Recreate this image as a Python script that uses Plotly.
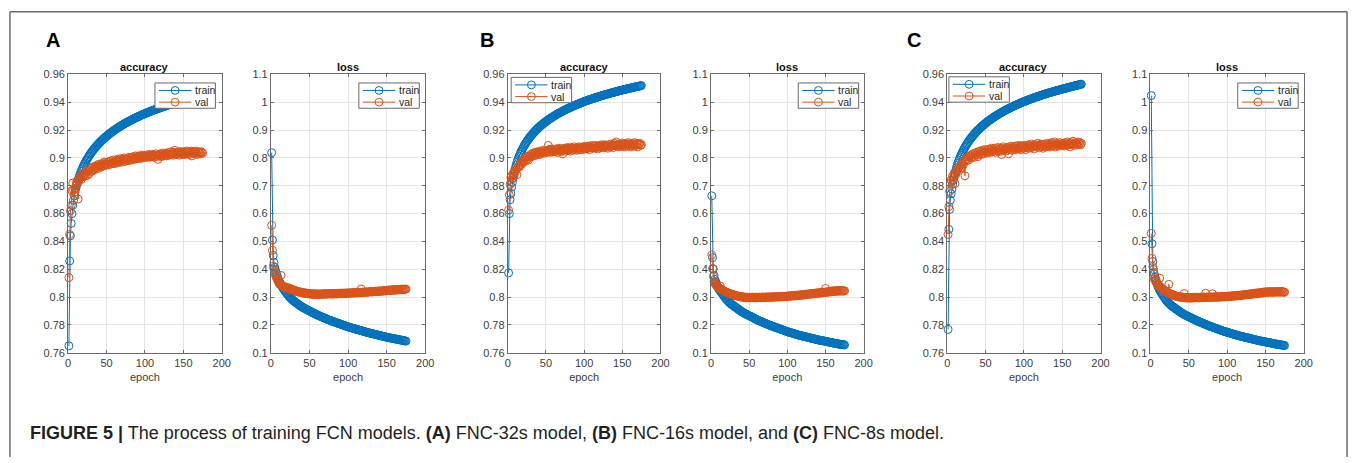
import plotly.graph_objects as go

# ---------------- data (one value per epoch, epochs 1..175) ----------------
EPOCHS = list(range(1, 176))

A_ACC_TRAIN = [
    .7650, .8260, .8440, .8530, .8600, .8660, .8696, .8728, .8755, .8780, .8802, .8822, .8841, .8859, .8875, .8890, .8904, .8917, .8930, .8942, .8954, .8964, .8975, .8985, .8994,
    .9003, .9012, .9021, .9029, .9037, .9045, .9052, .9059, .9066, .9073, .9080, .9086, .9092, .9098, .9104, .9110, .9116, .9121, .9126, .9132, .9137, .9142, .9147, .9152, .9156,
    .9161, .9166, .9170, .9174, .9179, .9183, .9187, .9191, .9195, .9199, .9203, .9207, .9210, .9214, .9218, .9221, .9225, .9228, .9232, .9235, .9238, .9242, .9245, .9248, .9251,
    .9254, .9257, .9261, .9263, .9266, .9269, .9272, .9275, .9278, .9281, .9283, .9286, .9289, .9291, .9294, .9297, .9299, .9302, .9304, .9307, .9309, .9312, .9314, .9316, .9319,
    .9321, .9323, .9326, .9328, .9330, .9332, .9334, .9337, .9339, .9341, .9343, .9345, .9347, .9349, .9351, .9353, .9355, .9357, .9359, .9361, .9363, .9365, .9367, .9369, .9371,
    .9373, .9374, .9376, .9378, .9380, .9382, .9384, .9385, .9387, .9389, .9391, .9392, .9394, .9396, .9397, .9399, .9401, .9402, .9404, .9406, .9407, .9409, .9410, .9412, .9414,
    .9415, .9417, .9418, .9420, .9421, .9423, .9424, .9426, .9427, .9429, .9430, .9432, .9433, .9434, .9436, .9437, .9439, .9440, .9441, .9443, .9444, .9446, .9447, .9448, .9450]
A_ACC_VAL = [
    .814, .845, .862, .866, .8765, .882, .877, .873, .878, .880, .883, .8815, .8705, .884, .885, .886, .8845, .888, .8865, .887, .8895, .8870, .8885, .8905, .8875,
    .891, .8885, .8915, .890, .8925, .8905, .8935, .892, .8915, .894, .8925, .8945, .8935, .8925, .8955, .894, .8950, .8935, .8960, .8945, .8955, .8970, .8945, .8960, .8955,
    .8970, .8950, .8965, .8975, .8955, .8980, .8965, .8960, .8985, .8970, .8960, .8980, .8975, .8990, .8965, .8985, .8975, .8995, .8980, .8970, .8990, .8985, .9000, .8975, .8990,
    .8985, .9000, .8980, .8995, .9005, .8990, .8985, .9005, .8995, .9010, .8990, .9000, .9015, .8995, .9005, .9000, .9015, .8995, .9010, .9005, .9020, .9000, .9010, .9015, .9005,
    .9015, .9005, .9020, .9010, .9025, .9005, .9015, .9020, .9010, .9025, .9015, .9005, .9020, .9030, .9010, .9020, .8990, .9025, .9015, .9030, .9010, .9025, .9035, .9015, .9025,
    .9020, .9035, .9015, .9030, .9025, .9040, .9020, .9030, .9045, .9025, .9035, .9020, .9040, .9055, .9030, .9025, .9040, .9030, .9045, .9020, .9035, .9045, .9025, .9040, .9030,
    .9045, .9025, .9040, .9035, .9050, .9030, .9045, .9025, .9040, .9050, .9015, .9040, .9035, .9045, .9030, .9050, .9040, .9025, .9045, .9035, .9040, .9030, .9045, .9040, .9035]
A_LOSS_TRAIN = [
    .819, .505, .450, .424, .407, .396, .386, .377, .368, .360, .355, .350, .345, .340, .335, .331, .327, .323, .319, .315, .3115, .308, .3046, .3012, .298,
    .2954, .2928, .2902, .2876, .285, .283, .281, .279, .277, .275, .273, .271, .269, .267, .265, .2635, .262, .2605, .259, .2575, .256, .2545, .253, .2515, .250,
    .2486, .2472, .2458, .2444, .243, .2416, .2402, .2388, .2374, .236, .2348, .2336, .2324, .2312, .230, .2288, .2276, .2264, .2252, .224, .2228, .2216, .2204, .2192, .218,
    .217, .216, .215, .214, .213, .212, .211, .210, .209, .208, .207, .206, .205, .204, .203, .202, .201, .200, .199, .198, .197, .196, .195, .194, .193,
    .1922, .1914, .1906, .1898, .189, .1882, .1874, .1866, .1858, .185, .1842, .1834, .1826, .1818, .181, .1802, .1794, .1786, .1778, .177, .1762, .1754, .1746, .1738, .173,
    .1723, .1716, .1710, .1703, .1696, .1689, .1682, .1676, .1669, .1662, .1655, .1648, .1642, .1635, .1628, .1621, .1614, .1608, .1601, .1594, .1587, .1580, .1574, .1567, .156,
    .1554, .1549, .1543, .1538, .1532, .1526, .1521, .1515, .1510, .1504, .1498, .1493, .1487, .1482, .1476, .1470, .1465, .1459, .1454, .1448, .1442, .1437, .1431, .1426, .142]
A_LOSS_VAL = [
    .558, .468, .411, .400, .389, .378, .372, .365, .360, .352, .348, .345, .378, .342, .340, .338, .337, .335, .3365, .333, .3325, .331, .3335, .329, .330,
    .327, .3285, .326, .3245, .325, .3225, .3235, .321, .3195, .321, .318, .319, .317, .3165, .318, .315, .316, .314, .3155, .313, .3145, .312, .3135, .3115, .313,
    .311, .3125, .310, .3115, .3095, .3125, .310, .311, .3095, .312, .3105, .309, .3115, .310, .312, .3095, .311, .3125, .310, .3115, .3135, .3105, .312, .311, .3125,
    .3115, .313, .311, .3125, .3105, .3135, .312, .3115, .313, .3125, .311, .314, .3125, .3135, .312, .3145, .313, .312, .3145, .3135, .3125, .315, .3135, .3145, .314,
    .3155, .3135, .315, .3145, .316, .314, .3155, .3165, .315, .3145, .317, .3155, .316, .3175, .3155, .3165, .329, .3165, .318, .317, .3175, .3185, .317, .319, .318,
    .3175, .319, .3185, .3205, .319, .318, .3205, .3195, .321, .3195, .3215, .3205, .3195, .322, .321, .3225, .3205, .3215, .323, .3215, .3225, .324, .322, .3235, .3225,
    .324, .3255, .3235, .3245, .326, .324, .3255, .327, .3245, .326, .3255, .3275, .325, .3265, .328, .326, .327, .3285, .3265, .3275, .329, .327, .3285, .328, .329]

B_ACC_TRAIN = [
    .8174, .8600, .8700, .8746, .8790, .8825, .8857, .8884, .8909, .8930, .8950, .8968, .8984, .9000, .9014, .9027, .9040, .9051, .9062, .9073, .9083, .9093, .9102, .9111, .9119,
    .9127, .9135, .9142, .9150, .9157, .9163, .9170, .9176, .9182, .9188, .9194, .9200, .9205, .9211, .9216, .9221, .9226, .9231, .9236, .9240, .9245, .9249, .9253, .9258, .9262,
    .9266, .9270, .9274, .9278, .9281, .9285, .9289, .9292, .9296, .9299, .9303, .9306, .9309, .9313, .9316, .9319, .9322, .9325, .9328, .9331, .9334, .9337, .9340, .9343, .9345,
    .9348, .9351, .9354, .9356, .9359, .9361, .9364, .9366, .9369, .9371, .9374, .9376, .9378, .9381, .9383, .9385, .9388, .9390, .9392, .9394, .9396, .9398, .9401, .9403, .9405,
    .9407, .9409, .9411, .9413, .9415, .9417, .9419, .9421, .9422, .9424, .9426, .9428, .9430, .9432, .9433, .9435, .9437, .9439, .9440, .9442, .9444, .9446, .9447, .9449, .9451,
    .9452, .9454, .9456, .9457, .9459, .9460, .9462, .9463, .9465, .9466, .9468, .9470, .9471, .9472, .9474, .9475, .9477, .9478, .9480, .9481, .9483, .9484, .9485, .9487, .9488,
    .9490, .9491, .9492, .9494, .9495, .9496, .9498, .9499, .9500, .9501, .9503, .9504, .9505, .9507, .9508, .9509, .9510, .9512, .9513, .9514, .9515, .9516, .9518, .9519, .9520]
B_ACC_VAL = [
    .8625, .8735, .881, .886, .887, .885, .889, .887, .891, .890, .892, .888, .893, .894, .8935, .895, .8965, .8955, .8975, .8985, .8970, .8995, .8980, .9005, .8990,
    .9010, .8985, .9015, .9005, .9025, .9010, .9020, .9035, .9015, .9030, .9040, .9020, .9035, .9045, .9030, .9040, .9025, .9050, .9035, .9045, .9040, .9055, .9035, .9045, .9050,
    .9040, .9055, .9090, .9045, .9060, .9040, .9055, .9065, .9045, .9050, .9060, .9045, .9065, .9055, .9040, .9060, .9070, .9050, .9060, .9045, .9065, .9030, .9055, .9070, .9060,
    .9050, .9065, .9075, .9055, .9070, .9060, .9050, .9075, .9065, .9055, .9070, .9080, .9060, .9070, .9055, .9075, .9065, .9080, .9060, .9070, .9075, .9060, .9080, .9070, .9065,
    .9075, .9085, .9065, .9075, .9070, .9085, .9060, .9080, .9075, .9090, .9070, .9080, .9085, .9070, .9090, .9075, .9080, .9065, .9085, .9090, .9075, .9080, .9095, .9075, .9085,
    .9080, .9095, .9075, .9090, .9085, .9070, .9095, .9085, .9080, .9100, .9085, .9090, .9075, .9095, .9105, .9090, .9115, .9085, .9095, .9100, .9080, .9095, .9090, .9105, .9085,
    .9100, .9090, .9080, .9105, .9095, .9085, .9100, .9110, .9090, .9095, .9080, .9105, .9095, .9100, .9085, .9110, .9095, .9090, .9105, .9080, .9100, .9095, .9105, .9090, .9095]
B_LOSS_TRAIN = [
    .664, .442, .401, .378, .364, .356, .349, .342, .336, .330, .3265, .323, .319, .315, .3115, .308, .304, .300, .2965, .293, .290, .287, .284, .281, .2785,
    .276, .274, .272, .270, .268, .266, .264, .262, .260, .258, .256, .254, .252, .250, .2483, .2467, .245, .2433, .2417, .240, .2387, .2373, .236, .2347, .2333,
    .232, .2307, .2293, .228, .2265, .2248, .223, .2217, .2203, .219, .2177, .2163, .215, .214, .213, .212, .2107, .2093, .208, .207, .206, .205, .2037, .2023, .201,
    .200, .199, .198, .197, .196, .195, .194, .193, .192, .191, .190, .189, .188, .187, .186, .185, .184, .183, .182, .181, .180, .179, .178, .177, .176,
    .175, .174, .1733, .1727, .172, .171, .170, .169, .1683, .1677, .167, .166, .165, .164, .1633, .1627, .162, .1613, .1607, .160, .1593, .1587, .158, .1573, .1567,
    .156, .1553, .1547, .154, .1533, .1527, .152, .1513, .1507, .150, .1493, .1487, .148, .1473, .1467, .146, .1453, .1447, .144, .1437, .1433, .143, .1423, .1417, .141,
    .1403, .1397, .139, .1387, .1383, .138, .1373, .1367, .136, .1353, .1347, .134, .1337, .1333, .133, .1323, .1317, .131, .1307, .1303, .130, .1297, .1293, .129, .128]
B_LOSS_VAL = [
    .451, .403, .374, .356, .350, .346, .342, .339, .336, .333, .331, .340, .329, .327, .325, .3235, .322, .3205, .319, .318, .3165, .3155, .314, .313, .312,
    .311, .3095, .3105, .308, .308, .3065, .3055, .306, .304, .3035, .3025, .303, .301, .302, .300, .3015, .2995, .300, .2985, .3005, .299, .2975, .2995, .2985, .298,
    .2995, .2975, .2985, .300, .2975, .299, .2985, .2970, .3000, .2985, .2975, .2995, .2985, .300, .2980, .2995, .2985, .3005, .2990, .2980, .3000, .2995, .3010, .2990, .3000,
    .2995, .3010, .3000, .2990, .3015, .3000, .3010, .2995, .3015, .3005, .3020, .3000, .3015, .3010, .3025, .3005, .3020, .3015, .3030, .3010, .3025, .3020, .3035, .3015, .3040,
    .3030, .3045, .3025, .3040, .3055, .3035, .3050, .3045, .3060, .3040, .3065, .3055, .3070, .3050, .3065, .3080, .3060, .3075, .3090, .3070, .3085, .3080, .3100, .3080, .3110,
    .3095, .3110, .3100, .3120, .3105, .3125, .3110, .3130, .3115, .3140, .3120, .3135, .3150, .3130, .3145, .3160, .3140, .3155, .3170, .3150, .3165, .3180, .3160, .3175, .3310,
    .3185, .3170, .3195, .3180, .3200, .3215, .3190, .3205, .3225, .3200, .3215, .3230, .3205, .3220, .3235, .3210, .3225, .3240, .3215, .3230, .3220, .3235, .3215, .3230, .3225]

C_ACC_TRAIN = [
    .7768, .8487, .8630, .8697, .8743, .8776, .8810, .8840, .8867, .8890, .8911, .8931, .8948, .8965, .8981, .8995, .9009, .9021, .9033, .9045, .9056, .9066, .9076, .9086, .9095,
    .9103, .9112, .9120, .9128, .9136, .9142, .9150, .9157, .9163, .9170, .9176, .9183, .9188, .9195, .9200, .9205, .9211, .9216, .9222, .9226, .9231, .9236, .9240, .9246, .9250,
    .9254, .9259, .9263, .9267, .9271, .9275, .9279, .9282, .9287, .9290, .9294, .9298, .9301, .9305, .9308, .9312, .9315, .9318, .9322, .9325, .9328, .9331, .9335, .9338, .9340,
    .9343, .9346, .9350, .9352, .9355, .9357, .9361, .9363, .9366, .9368, .9371, .9374, .9376, .9379, .9381, .9383, .9387, .9389, .9391, .9393, .9395, .9398, .9401, .9403, .9405,
    .9407, .9409, .9411, .9414, .9416, .9418, .9420, .9422, .9424, .9426, .9428, .9430, .9432, .9434, .9436, .9438, .9440, .9442, .9443, .9445, .9447, .9449, .9451, .9453, .9455,
    .9456, .9458, .9460, .9462, .9464, .9465, .9467, .9468, .9470, .9471, .9473, .9475, .9476, .9478, .9480, .9481, .9483, .9484, .9486, .9487, .9489, .9490, .9491, .9493, .9495,
    .9497, .9498, .9499, .9501, .9502, .9503, .9505, .9507, .9508, .9509, .9511, .9512, .9513, .9515, .9516, .9518, .9519, .9521, .9522, .9523, .9524, .9526, .9528, .9529, .9530]
C_ACC_VAL = [
    .845, .865, .876, .882, .884, .883, .887, .886, .889, .8815, .888, .890, .891, .892, .8935, .894, .8925, .8930, .8955, .8960, .8950, .8975, .8872, .8990, .8980,
    .8995, .9010, .8985, .9005, .9015, .9000, .9025, .9010, .9030, .9005, .9035, .9020, .9040, .9025, .9010, .9045, .9030, .9050, .9025, .9040, .9055, .9030, .9045, .9060, .9040,
    .9050, .9035, .9060, .9045, .9065, .9040, .9055, .9070, .9045, .9060, .9050, .9070, .9040, .9065, .9055, .9075, .9045, .9060, .9070, .9050, .9025, .9065, .9080, .9055, .9060,
    .9070, .9050, .9075, .9065, .9030, .9080, .9060, .9070, .9085, .9055, .9075, .9065, .9085, .9060, .9080, .9070, .9090, .9065, .9075, .9085, .9060, .9080, .9090, .9070, .9075,
    .9085, .9060, .9090, .9075, .9080, .9095, .9070, .9085, .9080, .9100, .9075, .9090, .9065, .9085, .9095, .9080, .9090, .9105, .9075, .9090, .9085, .9100, .9080, .9095, .9070,
    .9090, .9100, .9080, .9095, .9085, .9105, .9090, .9080, .9100, .9095, .9110, .9085, .9100, .9090, .9115, .9080, .9095, .9105, .9090, .9100, .9085, .9110, .9095, .9100, .9090,
    .9105, .9095, .9085, .9110, .9100, .9090, .9115, .9095, .9105, .9080, .9100, .9110, .9095, .9120, .9100, .9090, .9110, .9100, .9105, .9095, .9115, .9100, .9110, .9095, .9105]
C_LOSS_TRAIN = [
    1.024, .492, .428, .399, .383, .371, .361, .352, .344, .337, .331, .325, .3205, .316, .3115, .307, .303, .299, .295, .291, .2875, .284, .281, .278, .2755,
    .273, .2705, .268, .266, .264, .262, .260, .258, .256, .254, .252, .250, .248, .246, .2443, .2427, .241, .2393, .2377, .236, .2347, .2333, .232, .2307, .2293,
    .228, .2267, .2253, .224, .2227, .2213, .220, .2187, .2173, .216, .2147, .2133, .212, .211, .210, .209, .2077, .2063, .205, .204, .203, .202, .2007, .1993, .198,
    .197, .196, .195, .194, .193, .192, .191, .190, .189, .188, .187, .186, .185, .184, .183, .182, .181, .180, .179, .178, .177, .176, .1753, .1747, .174,
    .173, .172, .1713, .1707, .170, .169, .168, .167, .1663, .1657, .165, .164, .163, .162, .1613, .1607, .160, .1593, .1587, .158, .1573, .1567, .156, .1553, .1547,
    .154, .1533, .1527, .152, .1513, .1507, .150, .1493, .1487, .148, .1473, .1467, .146, .1453, .1447, .144, .1433, .1427, .142, .1417, .1413, .141, .1403, .1397, .139,
    .1383, .1377, .137, .1367, .1363, .136, .1353, .1347, .134, .1333, .1327, .132, .1317, .1313, .131, .1303, .1297, .129, .1287, .1283, .128, .1277, .1273, .127, .126]
C_LOSS_VAL = [
    .529, .439, .410, .390, .366, .360, .357, .350, .346, .341, .343, .368, .337, .333, .330, .328, .326, .324, .322, .320, .319, .317, .316, .346, .313,
    .3115, .310, .3085, .309, .307, .306, .3045, .3035, .302, .303, .301, .3015, .300, .2995, .301, .2985, .300, .2990, .3130, .2975, .2990, .2965, .2985, .2970, .2985,
    .2970, .2990, .2960, .2985, .2975, .2995, .2970, .2990, .2980, .3000, .2975, .2995, .2985, .2970, .3000, .2980, .2995, .2985, .3005, .2980, .2995, .3140, .2990, .3005, .2985,
    .3000, .2990, .3010, .2985, .3005, .3120, .2995, .3010, .3000, .2990, .3015, .3000, .3010, .2995, .3020, .3005, .3015, .3000, .3025, .3010, .3020, .3005, .3030, .3015, .3025,
    .3020, .3035, .3015, .3040, .3025, .3045, .3030, .3050, .3035, .3055, .3040, .3060, .3045, .3065, .3050, .3070, .3055, .3075, .3060, .3080, .3065, .3090, .3075, .3095, .3080,
    .3100, .3085, .3110, .3095, .3115, .3100, .3125, .3105, .3130, .3110, .3140, .3120, .3145, .3125, .3150, .3130, .3160, .3140, .3165, .3145, .3170, .3150, .3185, .3160, .3175,
    .3195, .3165, .3180, .3200, .3170, .3190, .3175, .3200, .3185, .3170, .3195, .3180, .3200, .3175, .3190, .3205, .3180, .3195, .3175, .3190, .3200, .3180, .3195, .3170, .3180]

SERIES_NAMES = ["train", "val"]
PANEL_LETTERS = ["A", "B", "C"]
PLOT_TITLES = ["accuracy", "loss"]

X_TICKS = [0, 50, 100, 150, 200]
X_TICK_LABELS = ["0", "50", "100", "150", "200"]
ACC_TICKS = [0.76, 0.78, 0.80, 0.82, 0.84, 0.86, 0.88, 0.90, 0.92, 0.94, 0.96]
ACC_TICK_LABELS = ["0.76", "0.78", "0.8", "0.82", "0.84", "0.86", "0.88", "0.9", "0.92", "0.94", "0.96"]
LOSS_TICKS = [0.1, 0.2, 0.3, 0.4, 0.5, 0.6, 0.7, 0.8, 0.9, 1.0, 1.1]
LOSS_TICK_LABELS = ["0.1", "0.2", "0.3", "0.4", "0.5", "0.6", "0.7", "0.8", "0.9", "1", "1.1"]

CAPTION = ("<b>FIGURE 5 |</b> The process of training FCN models. <b>(A)</b> FNC-32s model, "
           "<b>(B)</b> FNC-16s model, and <b>(C)</b> FNC-8s model.")

ALL = {"A_ACC_TRAIN": A_ACC_TRAIN, "A_ACC_VAL": A_ACC_VAL, "A_LOSS_TRAIN": A_LOSS_TRAIN,
       "A_LOSS_VAL": A_LOSS_VAL, "B_ACC_TRAIN": B_ACC_TRAIN, "B_ACC_VAL": B_ACC_VAL,
       "B_LOSS_TRAIN": B_LOSS_TRAIN, "B_LOSS_VAL": B_LOSS_VAL, "C_ACC_TRAIN": C_ACC_TRAIN,
       "C_ACC_VAL": C_ACC_VAL, "C_LOSS_TRAIN": C_LOSS_TRAIN, "C_LOSS_VAL": C_LOSS_VAL}
for k, v in ALL.items():
    assert len(v) == len(EPOCHS), (k, len(v))

PANEL_DATA = [
    (A_ACC_TRAIN, A_ACC_VAL), (A_LOSS_TRAIN, A_LOSS_VAL),
    (B_ACC_TRAIN, B_ACC_VAL), (B_LOSS_TRAIN, B_LOSS_VAL),
    (C_ACC_TRAIN, C_ACC_VAL), (C_LOSS_TRAIN, C_LOSS_VAL),
]

# ---------------- layout / style ----------------
W, H = 1360, 463
FONT = "Liberation Sans, Arial, Helvetica, sans-serif"
C_TRAIN = "#0072BD"
C_VAL = "#D95319"
AXC = "#6a6a6a"
GRID = "#e4e4e4"
TICKC = "#404040"

def px(x):
    return x / W

def py(y):
    return 1 - y / H

PANEL_X = [(65.7, 220.7), (270.3, 426.0), (509.3, 663.3),
           (714.3, 868.3), (952.7, 1107.3), (1157.7, 1312.3)]
PLOT_TOP, PLOT_BOTTOM = 70.3, 356.0
LEGEND_POS = [(153.3, 79.0), (359.0, 79.0), (512.7, 73.3),
              (802.3, 79.0), (954.3, 72.7), (1245.7, 79.0)]
LETTER_X = [42.7, 480.7, 910.7]

fig = go.Figure()
layout = dict(
    width=W, height=H,
    margin=dict(l=0, r=0, t=0, b=0, pad=0),
    paper_bgcolor="white", plot_bgcolor="white",
    showlegend=False,
    font=dict(family=FONT, size=11, color=TICKC),
)
annotations = []
shapes = []

for i in range(6):
    n = i + 1
    xs = "" if n == 1 else str(n)
    is_acc = (i % 2 == 0)
    train, val = PANEL_DATA[i]
    for name, ys, col in ((SERIES_NAMES[0], train, C_TRAIN), (SERIES_NAMES[1], val, C_VAL)):
        fig.add_trace(go.Scatter(
            x=EPOCHS, y=ys, name=name, mode="lines+markers",
            xaxis="x" + xs, yaxis="y" + xs,
            line=dict(color=col, width=1),
            marker=dict(symbol="circle-open", size=8, color=col, line=dict(width=1)),
            cliponaxis=False,
        ))
    x0, x1 = PANEL_X[i]
    layout["xaxis" + xs] = dict(
        domain=[px(x0), px(x1)], anchor="y" + xs, range=[0, 200],
        tickmode="array", tickvals=X_TICKS, ticktext=X_TICK_LABELS,
        showgrid=True, gridcolor=GRID, gridwidth=1, zeroline=False,
        showline=True, linecolor=AXC, linewidth=1, mirror="ticks",
        ticks="inside", ticklen=3, tickcolor=AXC,
        tickfont=dict(family=FONT, size=11, color=TICKC),
        title=dict(text="epoch", font=dict(family=FONT, size=11, color=TICKC), standoff=5),
    )
    layout["yaxis" + xs] = dict(
        domain=[py(PLOT_BOTTOM), py(PLOT_TOP)], anchor="x" + xs,
        range=[0.76, 0.96] if is_acc else [0.1, 1.1],
        tickmode="array",
        tickvals=ACC_TICKS if is_acc else LOSS_TICKS,
        ticktext=ACC_TICK_LABELS if is_acc else LOSS_TICK_LABELS,
        showgrid=True, gridcolor=GRID, gridwidth=1, zeroline=False,
        showline=True, linecolor=AXC, linewidth=1, mirror="ticks",
        ticks="inside", ticklen=3, tickcolor=AXC,
        tickfont=dict(family=FONT, size=11, color=TICKC),
    )
    annotations.append(dict(
        text="<b>%s</b>" % PLOT_TITLES[i % 2], xref="paper", yref="paper",
        x=px((x0 + x1) / 2), y=py(62.5), xanchor="center", yanchor="middle",
        showarrow=False, font=dict(family=FONT, size=11, color="#111111"),
    ))
    # legend box (MATLAB style)
    L, T = LEGEND_POS[i]
    shapes.append(dict(type="rect", xref="paper", yref="paper",
                       x0=px(L), x1=px(L + 61), y0=py(T + 26), y1=py(T),
                       fillcolor="white", line=dict(color=AXC, width=1), layer="above"))
    for j, (nm, col) in enumerate(((SERIES_NAMES[0], C_TRAIN), (SERIES_NAMES[1], C_VAL))):
        ry = T + 7.7 + 12 * j
        shapes.append(dict(type="line", xref="paper", yref="paper",
                           x0=px(L + 4), x1=px(L + 36.7), y0=py(ry), y1=py(ry),
                           line=dict(color=col, width=1), layer="above"))
        shapes.append(dict(type="circle", xref="paper", yref="paper",
                           x0=px(L + 20.4 - 4), x1=px(L + 20.4 + 4),
                           y0=py(ry + 4), y1=py(ry - 4),
                           line=dict(color=col, width=1), layer="above"))
        annotations.append(dict(
            text=nm, xref="paper", yref="paper", x=px(L + 38.5), y=py(ry),
            xanchor="left", yanchor="middle", showarrow=False,
            font=dict(family=FONT, size=10.5, color="#262626"),
        ))

for k, letter in enumerate(PANEL_LETTERS):
    annotations.append(dict(
        text="<b>%s</b>" % letter, xref="paper", yref="paper",
        x=px(LETTER_X[k] - 1), y=py(34.5), xanchor="left", yanchor="middle",
        showarrow=False, font=dict(family=FONT, size=20, color="#000000"),
    ))

annotations.append(dict(
    text=CAPTION, xref="paper", yref="paper", x=px(25), y=py(438),
    xanchor="left", yanchor="middle", showarrow=False,
    font=dict(family=FONT, size=18, color="#231f20"),
))

# figure frame
FRAME = "#6b6b6b"
shapes.append(dict(type="line", xref="paper", yref="paper", x0=px(7), x1=px(1356),
                   y0=py(6), y1=py(6), line=dict(color=FRAME, width=1.5)))
shapes.append(dict(type="line", xref="paper", yref="paper", x0=px(7), x1=px(7),
                   y0=py(6), y1=py(463), line=dict(color=FRAME, width=1.5)))
shapes.append(dict(type="line", xref="paper", yref="paper", x0=px(1356), x1=px(1356),
                   y0=py(6), y1=py(463), line=dict(color=FRAME, width=1.5)))

layout["annotations"] = annotations
layout["shapes"] = shapes
fig.update_layout(**layout)

POST = ("document.body.style.margin='0px';document.body.style.padding='0px';"
        "document.body.style.overflow='hidden';"
        "var d=document.getElementById('{plot_id}');"
        "if(d){d.style.position='fixed';d.style.left='0px';d.style.top='0px';}")

fig.write_html("out.html", include_plotlyjs=True,
               config={"displayModeBar": False, "responsive": False},
               post_script=POST)
